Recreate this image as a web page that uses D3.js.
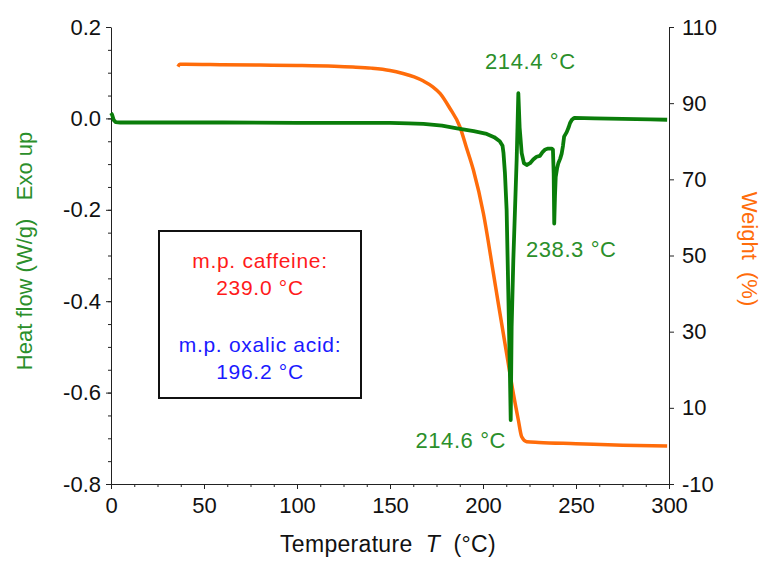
<!DOCTYPE html>
<html>
<head>
<meta charset="utf-8">
<script src="https://cdn.jsdelivr.net/npm/d3@7"></script>
<style>
    body { margin: 0; background: #fff; }
    svg { font-family: "Liberation Sans", Arial, sans-serif; }
    .axis path, .axis line { stroke: #222; }
    .axis text { font-size: 22px; fill: #111; font-family: "Liberation Sans", Arial, sans-serif; }
</style>
</head>
<body>
<svg id="chart" width="764" height="561"></svg>
<script>
(function() {
    'use strict';

    // heat flow (DSC) curve, W/g
    var hfTemp = [0, 0.6, 1.5, 2.5, 5, 30, 60, 100, 130, 150, 160, 168, 178, 186, 195, 202, 206, 209, 210.5, 211,
        211.8, 212.7, 213.6, 214.5, 214.9, 215.4, 216.3, 217.2, 218.1, 219, 219.7, 220.8, 222, 223.5, 225.3,
        227, 228.8, 230.6, 232, 233.5, 235, 236.9, 237.6, 238, 238.3, 238.7, 239.1, 239.8, 240.5, 241.5,
        242.3, 243, 243.6, 245, 246, 246.8, 247.8, 249, 260, 275, 290, 299];
    var hfValue = [0.012, 0.008, -0.004, -0.008, -0.009, -0.009, -0.009, -0.010, -0.010, -0.010, -0.011, -0.012, -0.016, -0.022, -0.028, -0.034, -0.041, -0.050, -0.060, -0.075,
        -0.12, -0.20, -0.38, -0.565, -0.66, -0.456, -0.31, -0.20, -0.09, 0.055, -0.02, -0.076, -0.098, -0.102, -0.098,
        -0.090, -0.084, -0.082, -0.074, -0.068, -0.066, -0.066, -0.068, -0.12, -0.23, -0.17, -0.128, -0.11, -0.098, -0.088,
        -0.077, -0.060, -0.040, -0.030, -0.020, -0.010, -0.003, 0.001, 0.000, -0.001, -0.002, -0.003];

    // TGA weight curve, %
    var wtTemp = [36, 37, 40, 60, 80, 100, 120, 130, 140, 150, 157, 163, 168, 173, 177, 182, 187.6, 191, 194.8, 200.2,
        205.6, 208.2, 212.7, 216.3, 219, 220.8, 223.5, 230, 250, 275, 299];
    var wtValue = [99.6, 100.2, 100.2, 100.1, 100.0, 99.9, 99.7, 99.5, 99.2, 98.6, 97.8, 96.9, 95.8, 94.3, 92.5, 88.8, 83.8, 78.5, 72.5, 61.1,
        45.3, 37.5, 24.3, 13.8, 6.8, 2.4, 1.1, 0.9, 0.6, 0.2, 0.0];

    var tempTicks = [0, 50, 100, 150, 200, 250, 300];
    var hfTicks = [0.2, 0.0, -0.2, -0.4, -0.6, -0.8];
    var wtTicks = [110, 90, 70, 50, 30, 10, -10];

    var peakLabels = ['214.4 °C', '238.3 °C', '214.6 °C'];
    var peakAt = [[219, 0.055], [238.3, -0.23], [214.9, -0.66]];
    var noteLines = ['m.p. caffeine:', '239.0 °C', 'm.p. oxalic acid:', '196.2 °C'];

    var GREEN = '#0a7d0a', GREEN_TXT = '#2b8f2b', ORANGE = '#ff6c0a';

    // plain hyphen for negatives, like the original
    var locale = d3.formatLocale({decimal: '.', thousands: ',', grouping: [3], currency: ['', ''], minus: '-'});

    var margin = {top: 27, right: 95, bottom: 77, left: 111},
        width = 764 - margin.left - margin.right,
        height = 561 - margin.top - margin.bottom;

    var svg = d3.select('#chart');
    var g = svg.append('g')
        .attr('transform', 'translate(' + margin.left + ',' + margin.top + ')');

    var x = d3.scaleLinear().domain([0, 300]).range([0, width]);
    var yHf = d3.scaleLinear().domain([-0.8, 0.2]).range([height, 0]);
    var yWt = d3.scaleLinear().domain([-10, 110]).range([height, 0]);

    // minor ticks first
    g.append('g')
        .attr('class', 'axis minor')
        .attr('transform', 'translate(0,' + height + ')')
        .call(d3.axisBottom(x).tickValues(d3.range(0, 300.1, 12.5)).tickFormat('').tickSize(3).tickSizeOuter(0))
        .select('.domain').remove();
    g.append('g')
        .attr('class', 'axis minor')
        .call(d3.axisLeft(yHf).tickValues(d3.range(-0.8, 0.201, 0.05)).tickFormat('').tickSize(3).tickSizeOuter(0))
        .select('.domain').remove();

    g.append('g')
        .attr('class', 'axis')
        .attr('transform', 'translate(0,' + height + ')')
        .call(d3.axisBottom(x).tickValues(tempTicks).tickSize(5).tickSizeOuter(0).tickPadding(5))
        .selectAll('text').attr('dy', '0.85em');

    g.append('g')
        .attr('class', 'axis')
        .call(d3.axisLeft(yHf).tickValues(hfTicks).tickSize(5).tickSizeOuter(0).tickPadding(5)
            .tickFormat(locale.format('.1f')));

    g.append('g')
        .attr('class', 'axis')
        .attr('transform', 'translate(' + width + ',0)')
        .call(d3.axisRight(yWt).tickValues(wtTicks).tickSize(5).tickSizeOuter(0).tickPadding(8)
            .tickFormat(locale.format('d')));

    // curves
    var hfLine = d3.line()
        .x(function(d) { return x(d[0]); })
        .y(function(d) { return yHf(d[1]); });
    var wtLine = d3.line()
        .curve(d3.curveMonotoneX)
        .x(function(d) { return x(d[0]); })
        .y(function(d) { return yWt(d[1]); });

    g.append('path')
        .datum(d3.zip(wtTemp, wtValue))
        .attr('fill', 'none')
        .attr('stroke', ORANGE)
        .attr('stroke-width', 3.5)
        .attr('stroke-linejoin', 'round')
        .attr('d', wtLine);

    g.append('path')
        .datum(d3.zip(hfTemp, hfValue))
        .attr('fill', 'none')
        .attr('stroke', GREEN)
        .attr('stroke-width', 3.8)
        .attr('stroke-linejoin', 'round')
        .attr('d', hfLine);

    // peak labels
    var labelOffset = [[12, -24], [17, 33], [-50, 28]];
    g.selectAll('.peak')
        .data(peakLabels)
        .enter().append('text')
        .attr('class', 'peak')
        .attr('x', function(d, i) { return x(peakAt[i][0]) + labelOffset[i][0]; })
        .attr('y', function(d, i) { return yHf(peakAt[i][1]) + labelOffset[i][1]; })
        .attr('text-anchor', 'middle')
        .attr('font-size', 22)
        .attr('letter-spacing', 0.6)
        .attr('fill', GREEN_TXT)
        .text(function(d) { return d; });

    // note box
    var box = g.append('g').attr('transform', 'translate(' + (159 - margin.left) + ',' + (231 - margin.top) + ')');
    box.append('rect')
        .attr('width', 202).attr('height', 167)
        .attr('fill', '#fff').attr('stroke', '#111').attr('stroke-width', 2);
    box.selectAll('text')
        .data(noteLines)
        .enter().append('text')
        .attr('x', 101)
        .attr('y', function(d, i) { return [37, 64, 121, 148][i]; })
        .attr('text-anchor', 'middle')
        .attr('font-size', 21)
        .attr('letter-spacing', 0.7)
        .attr('fill', function(d, i) { return i < 2 ? '#ff1a1a' : '#1a1aff'; })
        .text(function(d) { return d; });

    // axis titles
    var xTitle = svg.append('text')
        .attr('x', 388).attr('y', 552)
        .attr('text-anchor', 'middle')
        .attr('font-size', 23)
        .attr('letter-spacing', 0.3)
        .attr('xml:space', 'preserve')
        .attr('fill', '#111');
    xTitle.append('tspan').text('Temperature  ');
    xTitle.append('tspan').attr('font-style', 'italic').text('T');
    xTitle.append('tspan').text('  (°C)');

    svg.append('text')
        .attr('transform', 'translate(32,251) rotate(-90)')
        .attr('text-anchor', 'middle')
        .attr('font-size', 22)
        .attr('fill', GREEN_TXT)
        .attr('xml:space', 'preserve')
        .text('Heat flow (W/g)   Exo up');

    svg.append('text')
        .attr('transform', 'translate(742,249) rotate(90)')
        .attr('text-anchor', 'middle')
        .attr('font-size', 22)
        .attr('fill', ORANGE)
        .attr('xml:space', 'preserve')
        .text('Weight  (%)');
})();
</script>
</body>
</html>
